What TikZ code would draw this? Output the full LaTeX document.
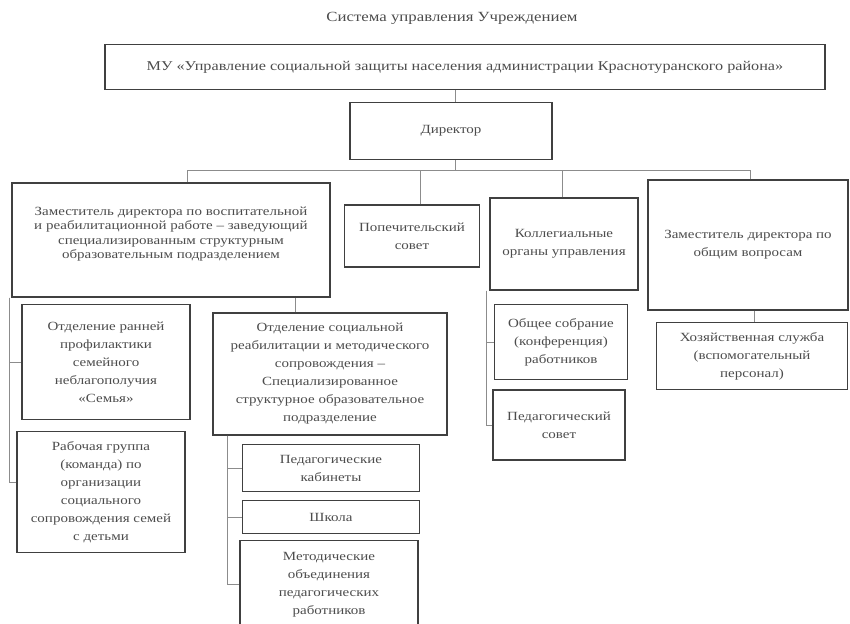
\documentclass[tikz,border=0pt]{standalone}
\usepackage{fontspec}
\setmainfont{Liberation Serif}[FakeStretch=1.2]
\usetikzlibrary{positioning}

\begin{document}
\begin{tikzpicture}[x=1pt,y=-1pt,
  blk/.style={draw=black!75,line width=1.2pt,align=center,text=black!70,inner sep=3pt,font=\fontsize{12.5}{18}\selectfont},
  ln/.style={draw=black!45,line width=0.6pt}]
\useasboundingbox (0,0) rectangle (850,623);
\node[text=black!70,font=\fontsize{14}{16}\selectfont] (ttl) at (452,18) {Система управления Учреждением};
\node[blk,minimum width=720pt,minimum height=45pt,font=\fontsize{13.5}{15}\selectfont] (mu) at (465,67) {МУ «Управление социальной защиты населения администрации Краснотуранского района»};
\node[blk,minimum width=202pt,minimum height=57pt] (dir) at (451,131) {Директор};
\node[blk,minimum width=318pt,minimum height=114pt,font=\fontsize{12.5}{14.5}\selectfont] (dep1) at (171,240) {Заместитель директора по воспитательной\\ и реабилитационной работе – заведующий\\ специализированным структурным\\ образовательным подразделением\\ \mbox{}};
\node[blk,minimum width=135pt,minimum height=62pt] (pop) at (412,236) {Попечительский\\ совет};
\node[blk,minimum width=148pt,minimum height=92pt] (koll) at (564,244) {Коллегиальные\\ органы управления};
\node[blk,minimum width=200pt,minimum height=130pt] (dep2) at (748,245) {Заместитель директора по\\ общим вопросам};
\node[blk,minimum width=168pt,minimum height=115pt] (rann) at (106,362) {Отделение ранней\\ профилактики\\ семейного\\ неблагополучия\\ «Семья»};
\node[blk,minimum width=168pt,minimum height=121pt] (rab) at (101,492) {Рабочая группа\\ (команда) по\\ организации\\ социального\\ сопровождения семей\\ с детьми};
\node[blk,minimum width=234pt,minimum height=122pt] (osr) at (330,374) {Отделение социальной\\ реабилитации и методического\\ сопровождения –\\ Специализированное\\ структурное образовательное\\ подразделение};
\node[blk,minimum width=177pt,minimum height=47pt] (pedk) at (331,468) {Педагогические\\ кабинеты};
\node[blk,minimum width=177pt,minimum height=33pt,below=8pt of pedk.south,anchor=north] (shk) {Школа};
\node[blk,minimum width=178pt,minimum height=88pt,anchor=north] (met) at (329,540) {Методические\\ объединения\\ педагогических\\ работников};
\node[blk,minimum width=133pt,minimum height=75pt] (obsh) at (561,342) {Общее собрание\\ (конференция)\\ работников};
\node[blk,minimum width=132pt,minimum height=70pt] (pedsov) at (559,425) {Педагогический\\ совет};
\node[blk,minimum width=191pt,minimum height=67pt] (hoz) at (752,356) {Хозяйственная служба\\ (вспомогательный\\ персонал)};
\coordinate (bus) at (455,170);
\draw[ln] (mu.south -| bus) -- (dir.north -| bus);
\draw[ln] (dir.south -| bus) -- (bus);
\foreach \n/\xo in {dep1/16,pop/8,koll/-2,dep2/2}
  \draw[ln] ([xshift=\xo pt]\n.north) |- (bus);
\draw[ln] ([xshift=-2pt]dep1.south west) |- (rann.west);
\draw[ln] ([xshift=-2pt]dep1.south west) |- ([yshift=10pt]rab.west);
\draw[ln] ([xshift=-35pt]osr.north) -- ([xshift=-35pt]osr.north |- dep1.south);
\foreach \n in {pedk,shk,met}
  \draw[ln] ([xshift=15pt]osr.south west) |- (\n.west);
\foreach \n in {obsh,pedsov}
  \draw[ln] ([xshift=-3pt]koll.south west) |- (\n.west);
\draw[ln] ([xshift=6pt]dep2.south) -- ([xshift=6pt]dep2.south |- hoz.north);
\end{tikzpicture}
\end{document}
